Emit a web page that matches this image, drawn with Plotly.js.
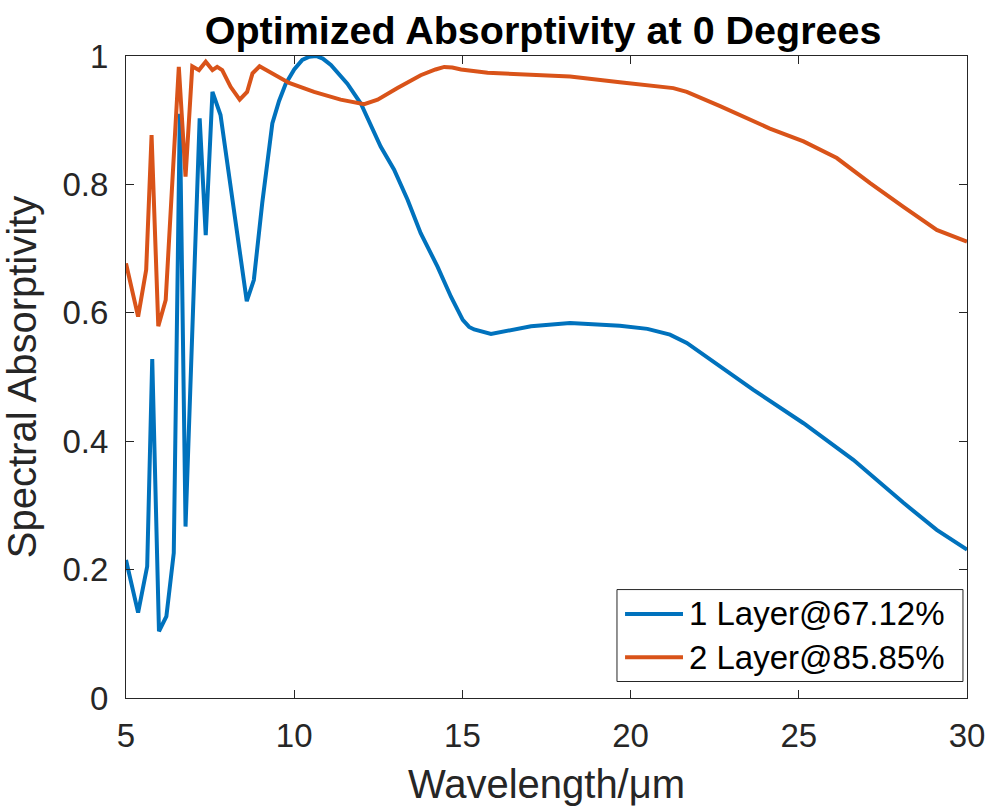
<!DOCTYPE html>
<html>
<head>
<meta charset="utf-8">
<script src="https://cdn.plot.ly/plotly-3.0.1.min.js"></script>
<style>html,body{margin:0;padding:0;background:#fff;}#chart{width:990px;height:807px;}</style>
</head>
<body>
<div id="chart"></div>
<script>
// Wavelength (µm) and absorptivity
var oneLayerX = [5.0, 5.36, 5.63, 5.78, 5.98, 6.2, 6.42, 6.6, 6.77, 7.19, 7.37, 7.57, 7.81, 8.59, 8.8, 9.05, 9.35, 9.55, 9.75, 10.0, 10.24, 10.45, 10.65, 10.85, 11.09, 11.3, 11.58, 11.98, 12.28, 12.57, 12.97, 13.37, 13.76, 14.26, 14.66, 15.01, 15.2, 15.35, 15.85, 16.54, 17.04, 18.2, 19.68, 20.5, 21.17, 21.67, 22.66, 23.65, 25.14, 26.62, 28.11, 29.1, 30.0];
var oneLayerY = [0.215, 0.133, 0.205, 0.528, 0.104, 0.127, 0.226, 0.91, 0.267, 0.903, 0.721, 0.944, 0.908, 0.618, 0.651, 0.771, 0.895, 0.93, 0.957, 0.979, 0.994, 0.999, 1.0, 0.996, 0.986, 0.974, 0.957, 0.926, 0.89, 0.859, 0.823, 0.776, 0.724, 0.672, 0.625, 0.589, 0.578, 0.574, 0.567, 0.574, 0.579, 0.584, 0.58, 0.575, 0.566, 0.553, 0.516, 0.48, 0.428, 0.371, 0.304, 0.262, 0.231];

var twoLayerX = [5.0, 5.36, 5.6, 5.76, 5.96, 6.18, 6.57, 6.77, 6.97, 7.17, 7.37, 7.57, 7.71, 7.86, 8.11, 8.38, 8.6, 8.76, 8.97, 9.35, 9.85, 10.59, 11.38, 12.08, 12.48, 13.07, 13.76, 14.2, 14.46, 14.7, 14.96, 15.75, 16.7, 18.2, 19.68, 20.5, 21.27, 21.67, 22.66, 24.14, 25.14, 26.13, 27.12, 28.11, 29.1, 30.0];
var twoLayerY = [0.677, 0.594, 0.667, 0.877, 0.579, 0.62, 0.983, 0.812, 0.984, 0.978, 0.991, 0.978, 0.983, 0.978, 0.952, 0.932, 0.944, 0.973, 0.984, 0.973, 0.958, 0.944, 0.932, 0.925, 0.932, 0.95, 0.97, 0.979, 0.983, 0.982, 0.979, 0.974, 0.972, 0.968, 0.959, 0.955, 0.95, 0.944, 0.922, 0.887, 0.867, 0.841, 0.802, 0.765, 0.729, 0.711];

var seriesNames = ['1 Layer@67.12%', '2 Layer@85.85%'];
var seriesColors = ['#0072BD', '#D95319'];
var xTicks = [5, 10, 15, 20, 25, 30];
var yTicks = [0, 0.2, 0.4, 0.6, 0.8, 1];
var yTickLabels = ['0', '0.2', '0.4', '0.6', '0.8', '1'];

var FONT = '"Liberation Sans", Arial, Helvetica, sans-serif';
var AX = '#262626';

var traces = [
  {x: oneLayerX, y: oneLayerY, name: seriesNames[0], mode: 'lines', line: {color: seriesColors[0], width: 4}},
  {x: twoLayerX, y: twoLayerY, name: seriesNames[1], mode: 'lines', line: {color: seriesColors[1], width: 4}}
];

// Legend box drawn in paper coordinates (layout only)
var legBox = {x0: 0.5838, x1: 0.9952, y0: 0.0257, y1: 0.1689};
var legRowsY = [0.1310, 0.0635];
var legLineX = [0.5934, 0.6623];
var legTextX = 0.6671;

var shapes = [{type: 'rect', xref: 'paper', yref: 'paper', x0: legBox.x0, x1: legBox.x1, y0: legBox.y0, y1: legBox.y1,
  line: {color: AX, width: 1}, fillcolor: '#fff', layer: 'above'}];
var annotations = [];
for (var i = 0; i < seriesNames.length; i++) {
  shapes.push({type: 'line', xref: 'paper', yref: 'paper', x0: legLineX[0], x1: legLineX[1], y0: legRowsY[i], y1: legRowsY[i],
    line: {color: seriesColors[i], width: 4}, layer: 'above'});
  annotations.push({xref: 'paper', yref: 'paper', x: legTextX, y: legRowsY[i], xanchor: 'left', yanchor: 'middle',
    text: seriesNames[i], showarrow: false, font: {family: FONT, size: 33, color: '#000'}});
}

var layout = {
  width: 990, height: 807,
  margin: {l: 126, r: 23, t: 56, b: 108.5, pad: 0},
  paper_bgcolor: '#fff', plot_bgcolor: '#fff',
  font: {family: FONT, color: AX},
  showlegend: false,
  title: {text: '<b>Optimized Absorptivity at 0 Degrees</b>', font: {family: FONT, size: 39.5, color: '#000'}, x: 0.5486, xanchor: 'center', y: 0.963, yanchor: 'middle'},
  xaxis: {
    range: [5, 30], tickvals: xTicks, ticktext: xTicks.map(String),
    ticks: 'inside', ticklen: 8, tickwidth: 1, tickcolor: AX,
    showline: true, linecolor: AX, linewidth: 1, mirror: 'ticks',
    showgrid: false, zeroline: false,
    tickfont: {family: FONT, size: 33, color: AX},
    ticklabelstandoff: 8,
    title: {text: 'Wavelength/μm', font: {family: FONT, size: 40, color: AX}, standoff: 17},
    automargin: false
  },
  yaxis: {
    range: [0, 1], tickvals: yTicks, ticktext: yTickLabels,
    ticks: 'inside', ticklen: 8, tickwidth: 1, tickcolor: AX,
    showline: true, linecolor: AX, linewidth: 1, mirror: 'ticks',
    showgrid: false, zeroline: false,
    tickfont: {family: FONT, size: 33, color: AX},
    ticklabelstandoff: 10,
    title: {text: 'Spectral Absorptivity', font: {family: FONT, size: 40, color: AX}, standoff: 13},
    automargin: false
  },
  shapes: shapes,
  annotations: annotations
};

Plotly.newPlot('chart', traces, layout, {displayModeBar: false, staticPlot: true});
</script>
</body>
</html>
